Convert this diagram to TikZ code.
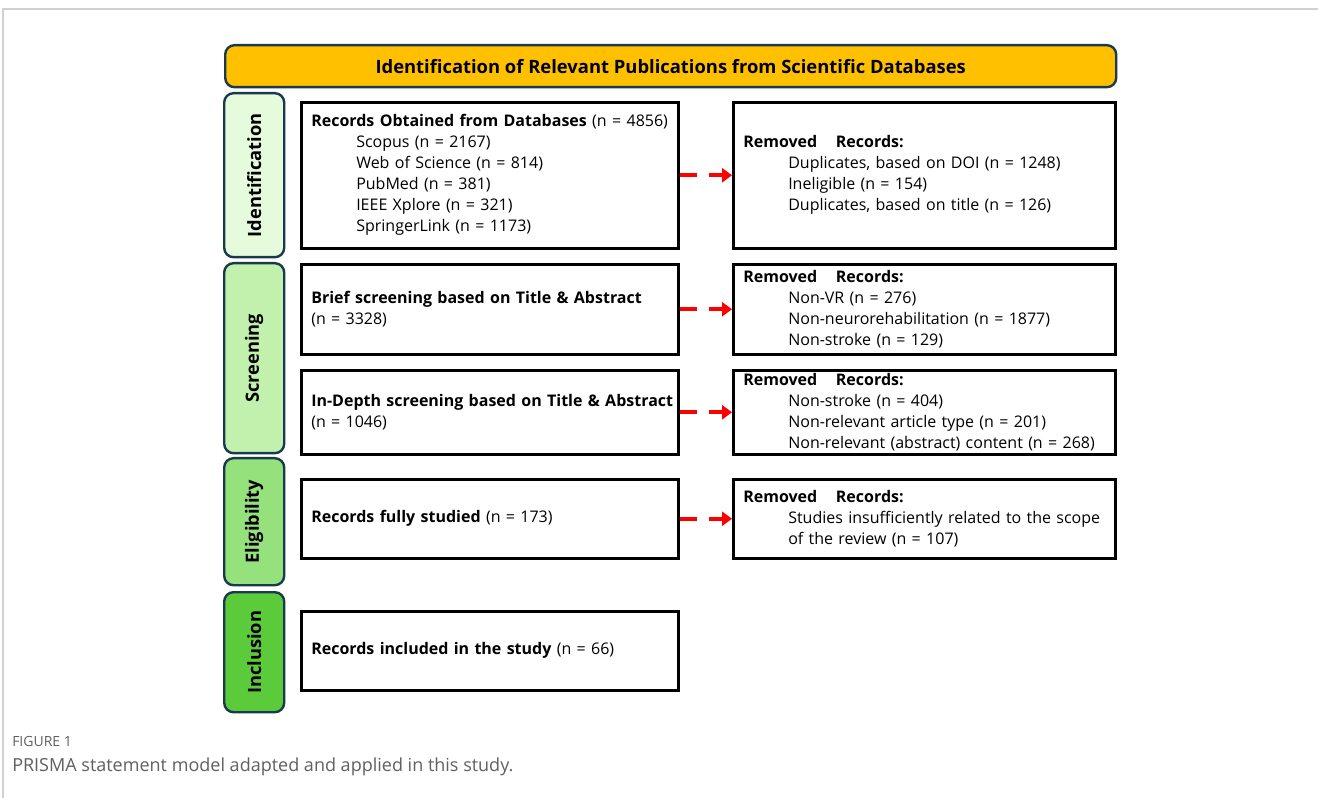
\documentclass[tikz,border=0pt]{standalone}
\usepackage{fontspec}
\setmainfont{Open Sans}
\usetikzlibrary{arrows.meta}
\definecolor{titlefill}{HTML}{FFC000}
\definecolor{edgedark}{HTML}{183A4C}
\definecolor{gA}{HTML}{E6FBDC}
\definecolor{gB}{HTML}{C2F1AE}
\definecolor{gC}{HTML}{95E17C}
\definecolor{gD}{HTML}{5BCB3C}
\definecolor{framegray}{HTML}{D0D0D0}
\definecolor{capgray}{HTML}{606060}
\definecolor{arrred}{HTML}{FF0000}
\tikzset{
  boxL/.style={draw=black, line width=1.9pt, anchor=north west, minimum width=282.75pt,
    text width=267.75pt, inner xsep=7.5pt, inner ysep=0pt, align=left,
    font=\fontsize{12}{15.75}\selectfont},
  boxR/.style={boxL, minimum width=286.5pt, text width=271.5pt},
  phase/.style={draw=edgedark, line width=1.8pt, rounded corners=7pt, anchor=north west,
    minimum width=45pt, inner sep=0pt},
  phasetxt/.style={rotate=90, font=\fontsize{13.7}{15}\selectfont\bfseries},
  arr/.style={draw=arrred, line width=3pt, dash pattern=on 12.75pt off 9pt,
    -{Triangle[length=7.5pt,width=10.5pt]}},
}
\newcommand{\ind}{\hspace*{33.75pt}}
\newcommand{\rem}{\textbf{Removed\hspace{14pt}Records:}}
\begin{document}
\begin{tikzpicture}[x=0.75pt,y=-0.75pt]
\useasboundingbox (0,0) rectangle (1318,798);
\fill[white] (0,0) rectangle (1318,798);
% page frame
\draw[framegray, line width=1.5pt] (3,798) -- (3,9) -- (1318,9);
% title bar
\node[draw=edgedark, line width=1.8pt, rounded corners=7pt, fill=titlefill, anchor=north west,
  minimum width=668.25pt, minimum height=31.5pt, inner sep=0pt,
  font=\fontsize{13.8}{15}\selectfont\bfseries] (title) at (224,44)
  {Identification of Relevant Publications from Scientific Databases};
% phases
\node[phase, fill=gA, minimum height=123pt] (pA) at (223,92) {};
\node[phasetxt] (tA) at (pA.center) {Identification};
\node[phase, fill=gB, minimum height=142.5pt] (pB) at (223,262) {};
\node[phasetxt] (tB) at (pB.center) {Screening};
\node[phase, fill=gC, minimum height=95.25pt] (pC) at (223,457) {};
\node[phasetxt] (tC) at (pC.center) {Eligibility};
\node[phase, fill=gD, minimum height=90pt] (pD) at (223,591) {};
\node[phasetxt] (tD) at (pD.center) {Inclusion};
% left boxes
\node[boxL, minimum height=109.5pt] (b1) at (300,101) {\mbox{\textbf{Records Obtained from Databases} (n = 4856)}\\
\ind Scopus (n = 2167)\\ \ind Web of Science (n = 814)\\ \ind PubMed (n = 381)\\
\ind IEEE Xplore (n = 321)\\ \ind SpringerLink (n = 1173)};
\node[boxL, minimum height=67.5pt] (b2) at (300,263) {\mbox{\textbf{Brief screening based on Title \& Abstract}}\\(n = 3328)};
\node[boxL, minimum height=63pt] (b3) at (300,369) {\mbox{\textbf{In-Depth screening based on Title \& Abstract}}\\(n = 1046)};
\node[boxL, minimum height=59.25pt] (b4) at (300,478) {\textbf{Records fully studied} (n = 173)};
\node[boxL, minimum height=59.25pt] (b5) at (300,610) {\textbf{Records included in the study} (n = 66)};
% right boxes
\node[boxR, minimum height=109.5pt] (r1) at (732,101) {\rem\\
\ind Duplicates, based on DOI (n = 1248)\\ \ind Ineligible (n = 154)\\ \ind Duplicates, based on title (n = 126)};
\node[boxR, minimum height=67.5pt] (r2) at (732,263) {\rem\\
\ind Non-VR (n = 276)\\ \ind Non-neurorehabilitation (n = 1877)\\ \ind Non-stroke (n = 129)};
\node[boxR, minimum height=63pt] (r3) at (732,369) {\rem\\
\ind Non-stroke (n = 404)\\ \ind Non-relevant article type (n = 201)\\ \ind \mbox{Non-relevant (abstract) content (n = 268)}};
\node[boxR, minimum height=59.25pt] (r4) at (732,478) {\rem\\
\ind \mbox{Studies insufficiently related to the scope}\\ \ind of the review (n = 107)};
% arrows
\draw[arr] (b1.east) -- (r1.west);
\draw[arr] (b2.east) -- (r2.west);
\draw[arr] (b3.east) -- (r3.west);
\draw[arr] (b4.east) -- (r4.west);
% caption
\node[anchor=base west, inner sep=0pt, text=capgray, font=\fontsize{10.5}{12}\selectfont] (cap1) at (12,746) {FIGURE 1};
\node[anchor=base west, inner sep=0pt, text=capgray, font=\fontsize{13.5}{16}\selectfont] (cap2) at (12,771) {PRISMA statement model adapted and applied in this study.};
\end{tikzpicture}
\end{document}
